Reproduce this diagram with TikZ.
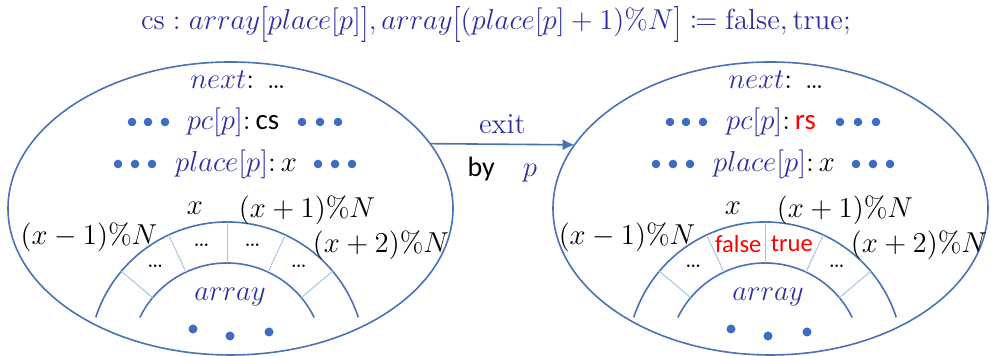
\documentclass[tikz,border=0pt]{standalone}
\usepackage{fontspec}
\usepackage{amsmath,mathtools}
\usetikzlibrary{positioning,arrows.meta,shapes.geometric}
\newfontfamily\calib{Carlito}
\definecolor{edge}{HTML}{4A72B8}
\definecolor{spoke}{HTML}{A9C3E8}
\definecolor{ink}{HTML}{2F2FA5}
\definecolor{dotc}{HTML}{3D6CC0}
\definecolor{hot}{HTML}{FF0000}
\newcommand{\tallopen}{\mathopen{\raisebox{-0.35ex}{\scalebox{1}[1.25]{$[$}}}}
\newcommand{\tallclose}{\mathclose{\raisebox{-0.35ex}{\scalebox{1}[1.25]{$]$}}}}
\tikzset{state/.style={draw=edge,line width=0.8pt,ellipse,inner sep=0pt,outer sep=0pt},
  ring/.style={draw=edge,line width=0.8pt},
  spk/.style={draw=spoke,line width=0.5pt},
  lbl/.style={font=\fontsize{14.5}{17}\selectfont,inner sep=0pt},
  cell/.style={font=\fontsize{13}{15}\selectfont,inner sep=0pt},
  word/.style={font=\calib\fontsize{14}{16}\selectfont,inner sep=0pt},
  flag/.style={font=\calib\fontsize{12.3}{14}\selectfont,inner sep=0pt,text=hot}}

\begin{document}
\begin{tikzpicture}[x=0.5pt,y=0.5pt,>=Latex]
  \useasboundingbox (0,0) rectangle (991,356);
  \node[lbl,text=ink] (title) at (496,331)
    {$\mathrm{cs}: array\tallopen place[p]\tallclose, array\tallopen(place[p]+1)\%N\tallclose \coloneqq \mathrm{false}, \mathrm{true};$};
  \node[state,minimum width=222.5pt,minimum height=146.5pt] (lstate) at (230.5,147.5) {};
  \node[state,minimum width=217.5pt,minimum height=146.5pt] (rstate) at (770.5,147.5) {};
  \draw[->,draw=edge,line width=0.8pt,-{Latex[length=6pt,width=5.5pt]}] (lstate.18) -- (rstate.162)
    node[midway,above=5pt,lbl,text=ink] (exit) {exit}
    node[midway,below=6pt,word] (by) {by\quad\textcolor{ink}{$p$}};
  % left state
  \node[lbl] (lnext) at (238,276) {$\textcolor{ink}{next}$: \ldots};
  \node[lbl] (lpc) at (233,234) {$\textcolor{ink}{pc[p]}{:}\,$\calib cs};
  \node[lbl] (lplace) at (236,192) {$\textcolor{ink}{place[p]}{:}\,x$};
  \foreach \dx in {132,148,165,302,320,338} \fill[dotc] (\dx,234) circle (4.3);
  \foreach \dx in {118,135,152,318,335,352} \fill[dotc] (\dx,192) circle (4.3);
  \coordinate (lhub) at (227,-4);
  \draw[ring] ([shift={(18:138)}]lhub) arc (18:162:138);
  \draw[ring] ([shift={(26:97)}]lhub) arc (26:154:97);
  \foreach \a in {40,65,90,115,140} \draw[spk] ([shift={(\a:97)}]lhub) -- ([shift={(\a:138)}]lhub);
  \foreach \a in {52.5,77.5,102.5,127.5} \node[cell] at ([shift={(\a:118)}]lhub) {\ldots};
  \node[lbl] (lx) at (195,148) {$x$};
  \node[lbl] (lxa) at (307,146) {$(x+1)\%N$};
  \node[lbl] (lxb) at (89,119) {$(x-1)\%N$};
  \node[lbl] (lxc) at (381,111) {$(x+2)\%N$};
  \node[lbl,text=ink] (larr) at (230,59) {$array$};
  \foreach \dx/\dy in {193/27,230/20,269/24} \fill[dotc] (\dx,\dy) circle (4.5);
  % right state
  \begin{scope}[shift={(538,0)}]
    \node[lbl] (rnext) at (238,276) {$\textcolor{ink}{next}$: \ldots};
    \node[lbl] (rpc) at (233,234) {$\textcolor{ink}{pc[p]}{:}\,$\calib\textcolor{hot}{rs}};
    \node[lbl] (rplace) at (236,192) {$\textcolor{ink}{place[p]}{:}\,x$};
    \foreach \dx in {132,148,165,302,320,338} \fill[dotc] (\dx,234) circle (4.3);
    \foreach \dx in {118,135,152,318,335,352} \fill[dotc] (\dx,192) circle (4.3);
    \coordinate (rhub) at (227,-4);
    \draw[ring] ([shift={(18:138)}]rhub) arc (18:162:138);
    \draw[ring] ([shift={(26:97)}]rhub) arc (26:154:97);
    \foreach \a in {40,65,90,115,140} \draw[spk] ([shift={(\a:97)}]rhub) -- ([shift={(\a:138)}]rhub);
    \foreach \a in {52.5,127.5} \node[cell] at ([shift={(\a:118)}]rhub) {\ldots};
    \node[flag] (rfalse) at ([shift={(103:119)}]rhub) {false};
    \node[flag] (rtrue) at ([shift={(77:119)}]rhub) {true};
    \node[lbl] (rx) at (195,148) {$x$};
    \node[lbl] (rxa) at (307,146) {$(x+1)\%N$};
    \node[lbl] (rxb) at (89,119) {$(x-1)\%N$};
    \node[lbl] (rxc) at (381,111) {$(x+2)\%N$};
    \node[lbl,text=ink] (rarr) at (230,59) {$array$};
    \foreach \dx/\dy in {193/27,230/20,269/24} \fill[dotc] (\dx,\dy) circle (4.5);
  \end{scope}
\end{tikzpicture}
\end{document}
